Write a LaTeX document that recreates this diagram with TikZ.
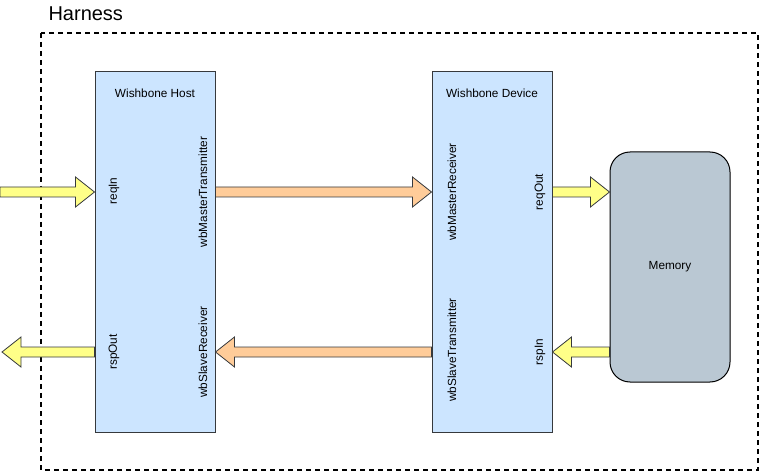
\documentclass[tikz,border=0pt]{standalone}
\usepackage{fontspec}
\setmainfont{Liberation Sans}
\usetikzlibrary{calc}

\definecolor{boxblue}{HTML}{CCE5FF}
\definecolor{boxline}{HTML}{36393D}
\definecolor{portyellow}{HTML}{FFFF88}
\definecolor{busorange}{HTML}{FFCC99}
\definecolor{memgray}{HTML}{BAC8D3}

\tikzset{
  module/.style={draw=boxline, line width=1pt, fill=boxblue, inner sep=0pt,
    minimum width=120pt, minimum height=360pt},
  title/.style={font=\fontsize{11.8}{14}\selectfont},
  portlabel/.style={rotate=90, font=\fontsize{11.8}{14}\selectfont},
  yellowarrow/.style={draw=boxline, line width=0.8pt, fill=portyellow},
  orangearrow/.style={draw=boxline, line width=0.8pt, fill=busorange},
}

% fat horizontal arrow: style, from, to
\newcommand\blockarrow[3]{%
  \draw[#1] let \p1=(#2), \p2=(#3), \n1={sign(\x2-\x1)} in
    (\x1,\y1+5pt) -- ({\x2-\n1*19pt},\y1+5pt) -- ({\x2-\n1*19pt},\y1+15pt)
    -- (\x2,\y1) -- ({\x2-\n1*19pt},\y1-15pt) -- ({\x2-\n1*19pt},\y1-5pt)
    -- (\x1,\y1-5pt) -- cycle;}

\begin{document}
\begin{tikzpicture}[x=1pt, y=-1pt]
\useasboundingbox (0,0) rectangle (761,473);

% harness
\draw[black, line width=1.3pt, dash pattern=on 5pt off 4pt] (41,33) rectangle (758,470);
\node[anchor=west, font=\fontsize{20}{24}\selectfont] (harness) at (45,14) {Harness};

% modules
\node[module] (host) at (155,252) {};
\node[module] (device) at (492,252) {};
\node[title] (hosttitle) at (155,93) {Wishbone Host};
\node[title] (devtitle) at (492,93) {Wishbone Device};
\node[draw=black, line width=1pt, fill=memgray, rounded corners=20pt,
  minimum width=120pt, minimum height=230pt, font=\fontsize{11.8}{14}\selectfont]
  (mem) at (670,267) {Memory};

% port labels
\node[portlabel] (reqin) at (114,191) {reqIn};
\node[portlabel] (rspout) at (114,352) {rspOut};
\node[portlabel] (mtx) at (203,192) {wbMasterTransmitter};
\node[portlabel] (srx) at (203,352) {wbSlaveReceiver};
\node[portlabel] (mrx) at (452,192) {wbMasterReceiver};
\node[portlabel] (stx) at (452,350) {wbSlaveTransmitter};
\node[portlabel] (reqout) at (540,192) {reqOut};
\node[portlabel] (rspin) at (540,352) {rspIn};

% arrows
\coordinate (reqsrc) at (0,192);
\coordinate (rspdst) at (2,352);
\coordinate (rowA) at (0,192);
\coordinate (rowB) at (0,352);
\blockarrow{yellowarrow}{reqsrc}{host.west |- rowA}
\blockarrow{yellowarrow}{host.west |- rowB}{rspdst}
\blockarrow{orangearrow}{host.east |- rowA}{device.west |- rowA}
\blockarrow{orangearrow}{device.west |- rowB}{host.east |- rowB}
\blockarrow{yellowarrow}{device.east |- rowA}{mem.west |- rowA}
\blockarrow{yellowarrow}{mem.west |- rowB}{device.east |- rowB}
\end{tikzpicture}
\end{document}
